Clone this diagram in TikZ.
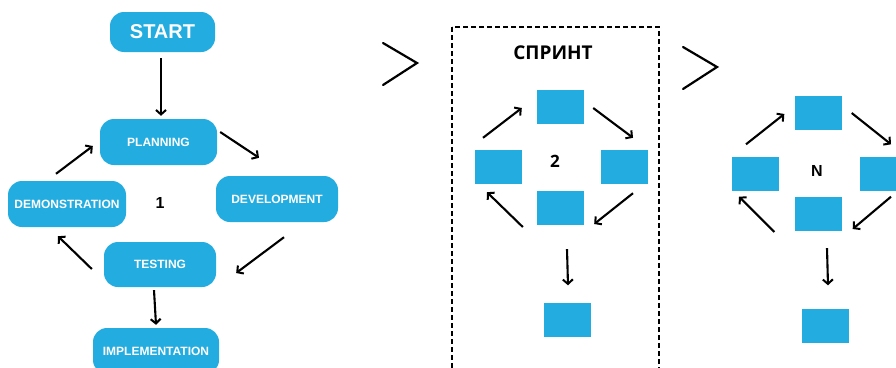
\documentclass[tikz,border=0pt]{standalone}
\usepackage{fontspec}
\setmainfont{Liberation Sans}
\newfontfamily\opensans{Open Sans}
\usetikzlibrary{arrows.meta,calc}
\definecolor{stageblue}{HTML}{22ACE0}
\tikzset{
  stage/.style={draw=none, fill=stageblue, rounded corners=14pt, text=white,
    font=\bfseries\fontsize{12}{14}\selectfont, inner sep=0pt, anchor=center},
  block/.style={draw=none, fill=stageblue, minimum width=47pt, minimum height=34pt, inner sep=0pt},
  flow/.style={line width=2.1pt, -{Straight Barb[length=4.5pt,width=10pt,line width=2pt]}},
  chevron/.style={line width=2.2pt, line cap=round, line join=miter},
  frame/.style={line width=2pt, dash pattern=on 5pt off 3pt},
  cyclenum/.style={font=\bfseries\fontsize{16}{18}\selectfont, text=black, inner sep=0pt}
}
\begin{document}
\begin{tikzpicture}[x=1pt, y=-1pt]
\useasboundingbox (0,0) rectangle (896,367);

% ---- first cycle ----
\node[stage, minimum width=105pt, minimum height=40pt, font=\bfseries\fontsize{20}{22}\selectfont] (start) at (162.5,32) {START};
\node[stage, minimum width=117pt, minimum height=46pt] (plan) at (158.5,142) {PLANNING};
\node[stage, minimum width=122pt, minimum height=46pt] (dev) at (277,199) {DEVELOPMENT};
\node[stage, minimum width=118pt, minimum height=46pt] (demo) at (67,204) {DEMONSTRATION};
\node[stage, minimum width=112pt, minimum height=45pt] (test) at (160,264.5) {TESTING};
\node[stage, minimum width=126pt, minimum height=46pt] (impl) at (156,351) {IMPLEMENTATION};
\node[cyclenum] (one) at (160,203) {1};

\draw[flow] ($(start.south)+(-1.5,6)$) -- ($(plan.north)+(2.5,-3)$);
\draw[flow] ($(plan.east)+(3,-10)$) -- ($(dev.north)+(-18,-18)$);
\draw[flow] ($(dev.south)+(7,15)$) -- ($(test.east)+(20,8.5)$);
\draw[flow] ($(test.west)+(-12,4.5)$) -- ($(demo.south)+(-9,9)$);
\draw[flow] ($(demo.north)+(-11,-7)$) -- ($(plan.west)+(-7,4)$);
\draw[flow] ($(test.south)+(-6,3)$) -- ($(impl.north)+(0,-3)$);

% ---- separators ----
\draw[chevron] (383,43) -- (417,63) -- (383,85);
\draw[chevron] (683,47) -- (717,67) -- (683,89);

% ---- sprint frame ----
\draw[frame] (452,27) rectangle (659,400);
\node[font=\opensans\bfseries\fontsize{19}{21}\selectfont, inner sep=0pt] (sprint) at (553,53) {СПРИНТ};

% ---- second cycle ----
\node[block] (t2) at (560.5,107) {};
\node[block] (l2) at (498,167) {};
\node[block] (r2) at (624.5,167) {};
\node[block] (b2) at (560.5,208) {};
\node[block] (f2) at (567,319.5) {};
\node[cyclenum, font=\opensans\bfseries\fontsize{17}{19}\selectfont] (two) at (555,161) {2};

\draw[flow] ($(l2.north)+(-15,-12)$) -- ($(t2.west)+(-15,1)$);
\draw[flow] ($(t2.east)+(9,1)$) -- ($(r2.north)+(8.5,-12)$);
\draw[flow] ($(r2.south)+(8.5,9)$) -- ($(b2.east)+(10,16)$);
\draw[flow] ($(b2.west)+(-14,19)$) -- ($(l2.south)+(-11,8)$);
\draw[flow] ($(b2.south)+(6.5,24)$) -- ($(f2.north)+(1,-17)$);

% ---- n-th cycle ----
\node[block] (tn) at (818,113) {};
\node[block] (ln) at (755.5,173.5) {};
\node[block] (rn) at (883,173.5) {};
\node[block] (bn) at (818,214) {};
\node[block] (fn) at (825.5,325.5) {};
\node[cyclenum] (nlabel) at (817,171) {N};

\draw[flow] ($(ln.north)+(-9.5,-12)$) -- ($(tn.west)+(-10,1)$);
\draw[flow] ($(tn.east)+(10,0)$) -- ($(rn.north)+(8,-12)$);
\draw[flow] ($(rn.south)+(8,6)$) -- ($(bn.east)+(11,15)$);
\draw[flow] ($(bn.west)+(-20,18)$) -- ($(ln.south)+(-16.5,6)$);
\draw[flow] ($(bn.south)+(9,17)$) -- ($(fn.north)+(2.5,-23)$);
\end{tikzpicture}
\end{document}
